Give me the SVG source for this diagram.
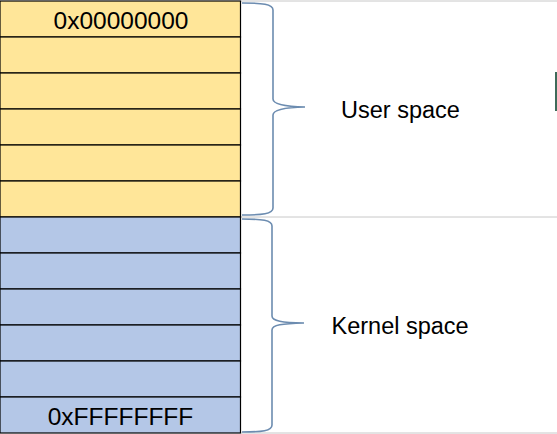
<svg xmlns="http://www.w3.org/2000/svg" width="557" height="434" viewBox="0 0 557 434">
<style>
.u{fill:#FFE699;stroke:#000;stroke-width:1.2}
.k{fill:#B4C7E7;stroke:#000;stroke-width:1.2}
.t{font-family:"Liberation Sans",Arial,sans-serif;font-size:23.5px;fill:#000}
.br{fill:none;stroke:#6C8CB0;stroke-width:1.6}
.g{stroke:#C8C8C8;stroke-width:1}
</style>
<rect width="557" height="434" fill="#fff"/>
<g id="grid">
<line class="g" x1="241" y1="1" x2="557" y2="1"/>
<line class="g" x1="241" y1="217" x2="557" y2="217"/>
<line class="g" x1="241" y1="433" x2="557" y2="433"/>
<line x1="556" y1="72" x2="556" y2="111" stroke="#3E6B5A" stroke-width="2"/>
</g>
<g id="user-cells">
<rect class="u" x="0" y="1" width="240.5" height="36"/>
<rect class="u" x="0" y="37" width="240.5" height="36"/>
<rect class="u" x="0" y="73" width="240.5" height="36"/>
<rect class="u" x="0" y="109" width="240.5" height="36"/>
<rect class="u" x="0" y="145" width="240.5" height="36"/>
<rect class="u" x="0" y="181" width="240.5" height="36"/>
</g>
<g id="kernel-cells">
<rect class="k" x="0" y="217" width="240.5" height="36"/>
<rect class="k" x="0" y="253" width="240.5" height="36"/>
<rect class="k" x="0" y="289" width="240.5" height="36"/>
<rect class="k" x="0" y="325" width="240.5" height="36"/>
<rect class="k" x="0" y="361" width="240.5" height="36"/>
<rect class="k" x="0" y="397" width="240.5" height="36"/>
</g>
<g id="labels">
<text class="t" x="121" y="28.5" text-anchor="middle" style="font-size:24.5px">0x00000000</text>
<text class="t" x="120.5" y="424.5" text-anchor="middle" style="font-size:24.5px">0xFFFFFFFF</text>
</g>
<g id="braces">
<path class="br" d="M242,3 C262,3 273,4 273,10 L273,99 C273,104 283,106.5 305,107 C283,107.5 273,110 273,115 L273,208 C273,214 262,215 242,215"/>
<path class="br" d="M242,219 C262,219 272,220 272,226 L272,316 C272,321 282,322.5 304,323 C282,323.5 272,325 272,330 L272,425 C272,431 262,432 242,432"/>
</g>
<g id="user-space">
<text class="t" x="341" y="118">User space</text>
</g>
<g id="kernel-space">
<text class="t" x="331.5" y="334">Kernel space</text>
</g>
</svg>
